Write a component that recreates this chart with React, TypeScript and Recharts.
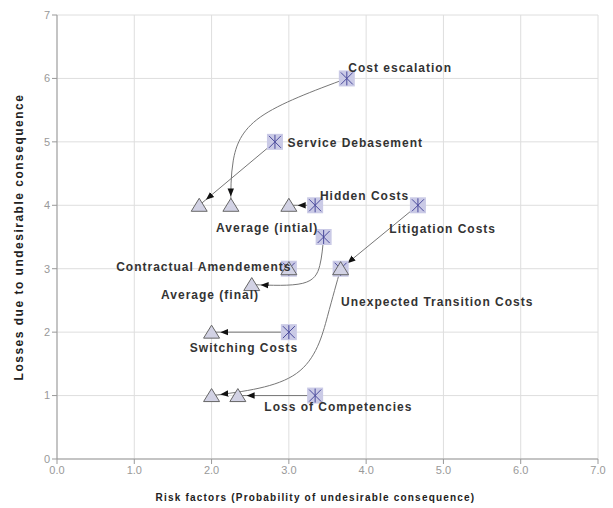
import React from "react";
import { ScatterChart, Scatter, XAxis, YAxis, CartesianGrid, Label, Curve } from "recharts";

// risk items: initial (star) and final (triangle) positions
const risks = [
  "Cost escalation",
  "Service Debasement",
  "Hidden Costs",
  "Litigation Costs",
  "Contractual Amendements",
  "Unexpected Transition Costs",
  "Switching Costs",
  "Loss of Competencies",
];
const initialX = [3.75, 2.82, 3.34, 4.67, 3.0, 3.67, 3.0, 3.34];
const initialY = [6, 5, 4, 4, 3, 3, 2, 1];
const finalX = [2.25, 1.84, 3.0, 3.67, 3.0, 2.0, 2.0, 2.34];
const finalY = [4, 4, 4, 3, 3, 1, 2, 1];

const avgInitial = { x: 3.45, y: 3.5 };
const avgFinal = { x: 2.52, y: 2.75 };

// bend points for the curved arrows (data units)
const bends: Record<string, { x: number; y: number }[]> = {
  "Cost escalation": [
    { x: 2.63, y: 5.39 },
    { x: 2.28, y: 4.7 },
  ],
  "Unexpected Transition Costs": [
    { x: 3.5, y: 2.25 },
    { x: 3.1, y: 1.35 },
  ],
  Average: [
    { x: 3.4, y: 3.05 },
    { x: 3.18, y: 2.77 },
  ],
};

// annotation text anchors (data units)
const labelNames = [...risks, "Average (intial)", "Average (final)"];
const labelX = [4.44, 3.86, 3.98, 4.99, 1.9, 4.92, 2.42, 3.64, 2.72, 1.98];
const labelY = [6.17, 4.98, 4.15, 3.63, 3.03, 2.48, 1.75, 0.82, 3.64, 2.59];

const xTicks = [0, 1, 2, 3, 4, 5, 6, 7];
const yTicks = [0, 1, 2, 3, 4, 5, 6, 7];

const initialPts = [
  ...risks.map((name, i) => ({ name, x: initialX[i], y: initialY[i] })),
  { name: "Average (intial)", ...avgInitial },
];
const finalPts = [
  ...risks.map((name, i) => ({ name, x: finalX[i], y: finalY[i] })),
  { name: "Average (final)", ...avgFinal },
];
const arrows = [
  ...risks.map((name, i) => ({
    name,
    curved: !!bends[name],
    pts: [
      { x: initialX[i], y: initialY[i] },
      ...(bends[name] || []),
      { x: finalX[i], y: finalY[i] },
    ],
  })),
  { name: "Average", curved: true, pts: [avgInitial, ...bends.Average, avgFinal] },
].filter((a) => {
  const s = a.pts[0];
  const e = a.pts[a.pts.length - 1];
  return s.x !== e.x || s.y !== e.y;
});
const labelPts = labelNames.map((name, i) => ({ name, x: labelX[i], y: labelY[i] }));

const FONT = "'Liberation Sans', Arial, sans-serif";

const StarBox = (p: any) => {
  const { cx, cy } = p;
  return (
    <g>
      <rect x={cx - 8} y={cy - 8} width={16} height={16} fill="#cacae6" />
      <g stroke="#4a4a9c" strokeWidth={1}>
        <line x1={cx} y1={cy - 7} x2={cx} y2={cy + 7} />
        <line x1={cx - 6} y1={cy - 6} x2={cx + 6} y2={cy + 6} />
        <line x1={cx + 6} y1={cy - 6} x2={cx - 6} y2={cy + 6} />
      </g>
    </g>
  );
};

const Tri = (p: any) => {
  const { cx, cy } = p;
  return (
    <polygon
      points={`${cx},${cy - 7} ${cx + 8},${cy + 6} ${cx - 8},${cy + 6}`}
      fill="#d2d2e4"
      stroke="#666"
      strokeWidth={1}
    />
  );
};

const Nothing = () => <g />;

const LabelText = (p: any) => (
  <text
    x={p.cx}
    y={p.cy}
    textAnchor="middle"
    dominantBaseline="central"
    fontFamily={FONT}
    fontSize={12}
    fontWeight="bold"
    letterSpacing={1}
    fill="#333"
  >
    {p.payload.name}
  </text>
);

const arrowLine = (curved: boolean) => (p: any) => (
  <Curve
    points={p.points}
    type={curved ? "natural" : "linear"}
    stroke="#777"
    strokeWidth={1}
    fill="none"
    markerEnd="url(#arrowHead)"
  />
);

export default function App() {
  return (
    <div style={{ position: "absolute", left: 0, top: 0, background: "#fff" }}>
      <ScatterChart width={613} height={508} margin={{ top: 15, right: 15, bottom: 0, left: 0 }}>
        <defs>
          <marker
            id="arrowHead"
            viewBox="0 0 10 10"
            refX={21}
            refY={5}
            markerWidth={8}
            markerHeight={8}
            markerUnits="userSpaceOnUse"
            orient="auto"
          >
            <path d="M0,1 L10,5 L0,9 z" fill="#111" />
          </marker>
        </defs>
        <CartesianGrid stroke="#dedede" />
        <XAxis
          type="number"
          dataKey="x"
          domain={[0, 7]}
          ticks={xTicks}
          interval={0}
          tickFormatter={(v: number) => v.toFixed(1)}
          tick={{ fill: "#999", fontSize: 11, fontFamily: FONT }}
          stroke="#999"
          tickSize={5}
          height={49}
        >
          <Label
            value="Risk factors (Probability of undesirable consequence)"
            position="insideBottom"
            offset={7}
            dx={-12}
            style={{ fontFamily: FONT, fontSize: 10, fontWeight: "bold", letterSpacing: 1.2, fill: "#222" }}
          />
        </XAxis>
        <YAxis
          type="number"
          dataKey="y"
          domain={[0, 7]}
          ticks={yTicks}
          interval={0}
          tick={{ fill: "#999", fontSize: 11, fontFamily: FONT }}
          stroke="#999"
          tickSize={5}
          width={57}
        >
          <Label
            value="Losses due to undesirable consequence"
            angle={-90}
            position="center"
            dx={-10}
            style={{ fontFamily: FONT, fontSize: 12, fontWeight: "bold", letterSpacing: 1.5, fill: "#222", textAnchor: "middle" }}
          />
        </YAxis>
        {arrows.map((a) => (
          <Scatter
            key={a.name}
            data={a.pts}
            shape={Nothing}
            line={arrowLine(a.curved)}
            isAnimationActive={false}
          />
        ))}
        <Scatter data={initialPts} shape={StarBox} isAnimationActive={false} />
        <Scatter data={finalPts} shape={Tri} isAnimationActive={false} />
        <Scatter data={labelPts} shape={LabelText} isAnimationActive={false} />
      </ScatterChart>
    </div>
  );
}
